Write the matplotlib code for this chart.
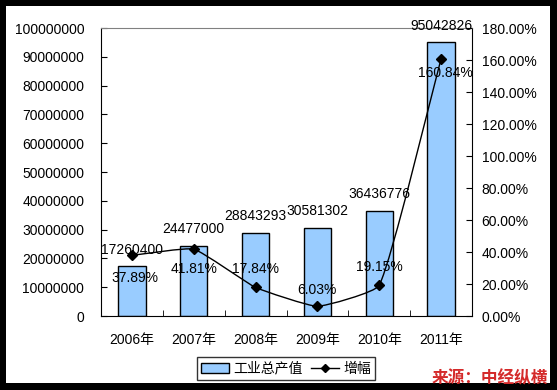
import numpy as np
import matplotlib.pyplot as plt
from matplotlib.patches import Rectangle, Patch, PathPatch
from matplotlib.lines import Line2D
from matplotlib.path import Path
from matplotlib.ticker import FuncFormatter, MultipleLocator

years = ['2006年', '2007年', '2008年', '2009年', '2010年', '2011年']
output_values = [17260400, 24477000, 28843293, 30581302, 36436776, 95042826]
growth_pct = [37.89, 41.81, 17.84, 6.03, 19.15, 160.84]

# label offsets (points) for the percentage labels, to keep them off the line
pct_offsets = [(2, -16), (0, -14), (0, 13), (0, 12), (0, 13), (3, -10)]

FONT = ['Liberation Sans', 'Noto Sans CJK SC', 'DejaVu Sans']
plt.rcParams['font.family'] = FONT
plt.rcParams['font.size'] = 10

fig = plt.figure(figsize=(5.57, 3.90), dpi=100)
fig.patch.set_facecolor('black')
fig.patches.append(Rectangle((6 / 557, 7 / 390), 544 / 557, 377 / 390,
                             transform=fig.transFigure, facecolor='white',
                             edgecolor='none', zorder=-10))

ax = fig.add_axes([101 / 557, 74 / 390, 371 / 557, 288 / 390])
ax.set_facecolor('none')
x = list(range(len(years)))
ax.bar(x, output_values, width=0.44, color='#99CCFF', edgecolor='black',
       linewidth=1, zorder=2)
ax.set_xlim(-0.5, len(years) - 0.5)
ax.set_ylim(0, 100000000)
ax.yaxis.set_major_locator(MultipleLocator(10000000))
ax.yaxis.set_major_formatter(FuncFormatter(lambda v, p: f'{int(v)}'))
ax.set_xticks(x)
ax.set_xticklabels(years)
ax.set_xticks([i + 0.5 for i in x[:-1]], minor=True)
ax.tick_params(axis='x', which='major', length=0, pad=12)
ax.tick_params(axis='x', which='minor', direction='in', length=4)
ax.tick_params(axis='y', direction='in', length=4, pad=12)
ax.spines['top'].set_color('#808080')
for s in ['left', 'bottom', 'right']:
    ax.spines[s].set_color('black')

for xi, v in zip(x, output_values):
    ax.annotate(f'{v}', (xi, v), xytext=(0, 12), textcoords='offset points',
                ha='center', va='center', fontsize=10, zorder=5)

ax2 = ax.twinx()
ax2.set_ylim(0, 180)
ax2.yaxis.set_major_locator(MultipleLocator(20))
ax2.yaxis.set_major_formatter(FuncFormatter(lambda v, p: f'{v:.2f}%'))
ax2.tick_params(axis='y', direction='in', length=4, pad=7)
for s in ax2.spines.values():
    s.set_visible(False)

# mildly smoothed series: Bezier handles sized by segment length in pixels
t = 0.12
disp = ax2.transData.transform(np.column_stack([x, growth_pct]))
n = len(disp)
tang = []
for i in range(n):
    d = disp[min(i + 1, n - 1)] - disp[max(i - 1, 0)]
    tang.append(d / np.hypot(*d))
verts = [disp[0]]
codes = [Path.MOVETO]
for i in range(n - 1):
    seg = np.hypot(*(disp[i + 1] - disp[i]))
    verts += [disp[i] + tang[i] * seg * t, disp[i + 1] - tang[i + 1] * seg * t,
              disp[i + 1]]
    codes += [Path.CURVE4] * 3
verts = ax2.transData.inverted().transform(np.array(verts))
ax2.add_patch(PathPatch(Path(verts, codes), facecolor='none',
                        edgecolor='black', linewidth=1, zorder=3))
ax2.plot(x, growth_pct, linestyle='none', marker='D', markersize=5,
         color='black', zorder=4)

for xi, g, off in zip(x, growth_pct, pct_offsets):
    ax2.annotate(f'{g:.2f}%', (xi, g), xytext=off, textcoords='offset points',
                 ha='center', va='center', fontsize=10, zorder=5)

handles = [Patch(facecolor='#99CCFF', edgecolor='black'),
           Line2D([], [], color='black', marker='D', markersize=4, linewidth=1)]
leg = fig.legend(handles, ['工业总产值', '增幅'], loc='center',
                 bbox_to_anchor=(286 / 557, 1 - 368.5 / 390), ncol=2,
                 frameon=True, fancybox=False, fontsize=10,
                 handlelength=2.0, handletextpad=0.3, columnspacing=0.6,
                 borderpad=0.3, borderaxespad=0)
leg.get_frame().set_edgecolor('black')
leg.get_frame().set_linewidth(1)

fig.text(548 / 557, 1 - 378 / 390, '来源：中经纵横', ha='right', va='center',
         color='#D42A2A', fontsize=12, fontweight='bold', style='italic',
         family=['Noto Sans CJK SC', 'DejaVu Sans'])

fig.savefig('out.png', dpi=100, facecolor=fig.get_facecolor())
